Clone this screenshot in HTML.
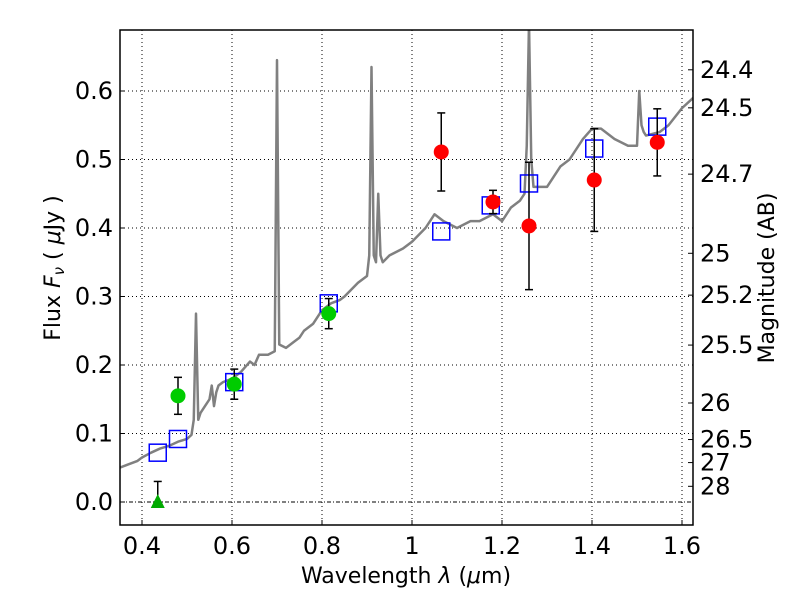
<!DOCTYPE html>
<html><head><meta charset="utf-8"><style>
body{margin:0;background:#fff}
svg text{font-family:"DejaVu Sans","Liberation Sans",sans-serif;fill:#000}
</style></head><body>
<svg id="c" width="800" height="600" xmlns="http://www.w3.org/2000/svg"></svg>
<script>
const specX=[0.35,0.37,0.39,0.4,0.42,0.44,0.46,0.48,0.5,0.51,0.515,0.52,0.525,0.53,0.54,0.55,0.555,0.56,0.565,0.57,0.58,0.6,0.62,0.64,0.65,0.66,0.68,0.695,0.7,0.705,0.72,0.74,0.75,0.76,0.78,0.8,0.82,0.84,0.85,0.88,0.9,0.905,0.91,0.915,0.92,0.925,0.93,0.935,0.95,0.98,1.0,1.03,1.05,1.07,1.1,1.13,1.15,1.18,1.2,1.22,1.24,1.25,1.255,1.26,1.265,1.27,1.3,1.33,1.35,1.38,1.4,1.42,1.45,1.48,1.5,1.505,1.51,1.515,1.52,1.55,1.57,1.6,1.625];
const specY=[0.05,0.055,0.06,0.065,0.072,0.078,0.082,0.088,0.092,0.098,0.12,0.275,0.12,0.13,0.14,0.15,0.17,0.14,0.16,0.17,0.175,0.18,0.19,0.205,0.2,0.215,0.215,0.22,0.645,0.23,0.225,0.235,0.24,0.25,0.26,0.28,0.29,0.295,0.3,0.32,0.33,0.36,0.635,0.36,0.35,0.45,0.36,0.35,0.36,0.37,0.38,0.4,0.42,0.41,0.4,0.41,0.41,0.42,0.41,0.43,0.44,0.45,0.52,0.7,0.5,0.46,0.46,0.49,0.5,0.53,0.545,0.545,0.53,0.52,0.52,0.6,0.55,0.54,0.535,0.54,0.55,0.575,0.59];
const sqX=[0.435,0.48,0.605,0.815,1.065,1.175,1.26,1.405,1.545];
const sqY=[0.072,0.092,0.175,0.290,0.395,0.433,0.465,0.516,0.548];
const gX=[0.48,0.605,0.815];
const gY=[0.155,0.172,0.275];
const gE=[0.027,0.022,0.022];
const triX=[0.435];const triY=[0.0];const triE=[0.03];
const rX=[1.065,1.18,1.26,1.405,1.545];
const rY=[0.511,0.438,0.403,0.470,0.525];
const rE=[0.057,0.017,0.093,0.075,0.049];
const xTicks=[0.4,0.6,0.8,1.0,1.2,1.4,1.6];
const xLabels=["0.4","0.6","0.8","1","1.2","1.4","1.6"];
const yTicks=[0,0.1,0.2,0.3,0.4,0.5,0.6];
const yLabels=["0.0","0.1","0.2","0.3","0.4","0.5","0.6"];
const magTicks=[24.4,24.5,24.7,25,25.2,25.5,26,26.5,27,28];
const magLabels=["24.4","24.5","24.7","25","25.2","25.5","26","26.5","27","28"];

const L=120,R=693,T=30,B=525;
const X=v=>142+(v-0.4)*450;
const Y=v=>502-v*685;
const svg=document.getElementById('c');
const NS='http://www.w3.org/2000/svg';
function mk(t,a,p){const e=document.createElementNS(NS,t);for(const k in a)e.setAttribute(k,a[k]);(p||svg).appendChild(e);return e;}

xTicks.forEach((v,i)=>{
 const g=mk('line',{x1:X(v),x2:X(v),y1:T,y2:B,stroke:'#000','stroke-dasharray':'1,3','stroke-width':1});
 
 
 mk('line',{x1:X(v),x2:X(v),y1:B,y2:B-5,stroke:'#000'});
 const t=mk('text',{x:X(v),y:B+29,'text-anchor':'middle','font-size':24});t.textContent=xLabels[i];
 
 
});
yTicks.forEach((v,i)=>{
 const g=mk('line',{x1:L,x2:R,y1:Y(v),y2:Y(v),stroke:'#000','stroke-dasharray':v===0?'4,2,1,2':'1,3','stroke-width':1});
 
 
 mk('line',{x1:L,x2:L+5,y1:Y(v),y2:Y(v),stroke:'#000'});
 const t=mk('text',{x:L-7,y:Y(v)+8,'text-anchor':'end','font-size':24});t.textContent=yLabels[i];
 
 
});
magTicks.forEach((m,i)=>{
 const y=Y(Math.pow(10,(23.9-m)/2.5));
 mk('line',{x1:R,x2:R-5,y1:y,y2:y,stroke:'#000'});
 const t=mk('text',{x:R+7,y:y+8,'font-size':24});t.textContent=magLabels[i];
 
 
});
const cp=mk('clipPath',{id:'cp'});mk('rect',{x:L,y:T,width:R-L,height:B-T},cp);
const sp=mk('polyline',{points:specX.map((v,i)=>X(v)+','+Y(specY[i])).join(' '),fill:'none',stroke:'#808080','stroke-width':2.5,'clip-path':'url(#cp)','stroke-linejoin':'round'});


function err(x,y,e,lo){const x0=X(x);mk('line',{x1:x0,x2:x0,y1:Y(y+e),y2:Y(lo?y:y-e),stroke:'#000','stroke-width':1.5});
 mk('line',{x1:x0-4,x2:x0+4,y1:Y(y+e),y2:Y(y+e),stroke:'#000','stroke-width':1.5});
 mk('line',{x1:x0-4,x2:x0+4,y1:Y(lo?y:y-e),y2:Y(lo?y:y-e),stroke:'#000','stroke-width':1.5});}
sqX.forEach((v,i)=>{const r=mk('rect',{x:X(v)-8.5,y:Y(sqY[i])-8.5,width:17,height:17,fill:'none',stroke:'#0000ff','stroke-width':1.5});
 
 });
gX.forEach((v,i)=>{err(v,gY[i],gE[i]);const c=mk('circle',{cx:X(v),cy:Y(gY[i]),r:7.5,fill:'#00cc00'});
 
 });
triX.forEach((v,i)=>{err(v,triY[i],triE[i],true);const x0=X(v),y0=Y(triY[i]);const p=mk('polygon',{points:`${x0},${y0-8} ${x0-7},${y0+6} ${x0+7},${y0+6}`,fill:'#00aa00'});
 
 });
rX.forEach((v,i)=>{err(v,rY[i],rE[i]);const c=mk('circle',{cx:X(v),cy:Y(rY[i]),r:7.5,fill:'#ff0000'});
 
 });
const fr=mk('rect',{x:L,y:T,width:R-L,height:B-T,fill:'none',stroke:'#000','stroke-width':1.5});


let t=mk('text',{x:406,y:583,'text-anchor':'middle','font-size':22});
t.innerHTML='Wavelength  <tspan font-style="italic">λ</tspan> (<tspan font-style="italic">μ</tspan>m)';


t=mk('text',{transform:'translate(60,268) rotate(-90)','text-anchor':'middle','font-size':22});
t.innerHTML='Flux  <tspan font-style="italic">F<tspan font-size="15" dy="4">ν</tspan></tspan><tspan dy="-4">  ( </tspan><tspan font-style="italic">μ</tspan>Jy )';


t=mk('text',{transform:'translate(774,278) rotate(-90)','text-anchor':'middle','font-size':22});
t.textContent='Magnitude (AB)';


</script>
</body></html>
